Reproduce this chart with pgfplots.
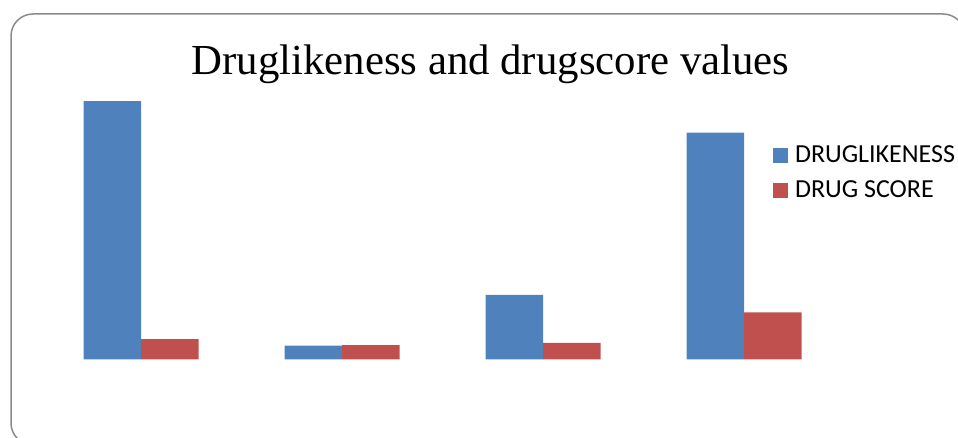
\documentclass[border=0pt]{standalone}
\usepackage{pgfplots}
\pgfplotsset{compat=1.18}
\usepackage{fontspec}
\setmainfont{Liberation Serif}
\newfontfamily\calibri{Carlito}
\definecolor{barblue}{HTML}{4F81BD}
\definecolor{barred}{HTML}{C0504D}
\definecolor{frame}{HTML}{8A8A8A}
\begin{document}
\begin{tikzpicture}
\useasboundingbox (0,0) rectangle (479pt,219pt);
\draw[frame, line width=0.75pt, rounded corners=11pt] (5.5pt,212pt) rectangle (482.5pt,-3.5pt);
\begin{axis}[
  at={(70.5pt,39.35pt)}, anchor=origin,
  scale only axis, width=402pt, height=135pt,
  hide axis,
  xmin=-0.5, xmax=3.5, ymin=0, ymax=4.5,
  ybar=0pt, bar width=28.75pt,
  title={\fontsize{21.4pt}{24pt}\selectfont Druglikeness and drugscore values},
  title style={at={(0.5597,1.011)}, anchor=base, inner sep=0pt},
  legend style={at={(0.9107,0.7937)}, anchor=north west, draw=none, fill=none,
    font=\calibri\fontsize{13pt}{15pt}\selectfont,
    nodes={inner sep=0pt}, column sep=3.65pt, row sep=7.6pt, inner sep=0pt},
  legend cell align=left,
  legend image code/.code={\fill[#1] (0pt,-3.6pt) rectangle (7.3pt,3.6pt);},
]
\addplot[fill=barblue, draw=none] coordinates {(0,4.305) (1,0.227) (2,1.072) (3,3.777)};
\addplot[fill=barred, draw=none] coordinates {(0,0.338) (1,0.238) (2,0.272) (3,0.783)};
\legend{DRUGLIKENESS, DRUG SCORE}
\end{axis}
\end{tikzpicture}
\end{document}
